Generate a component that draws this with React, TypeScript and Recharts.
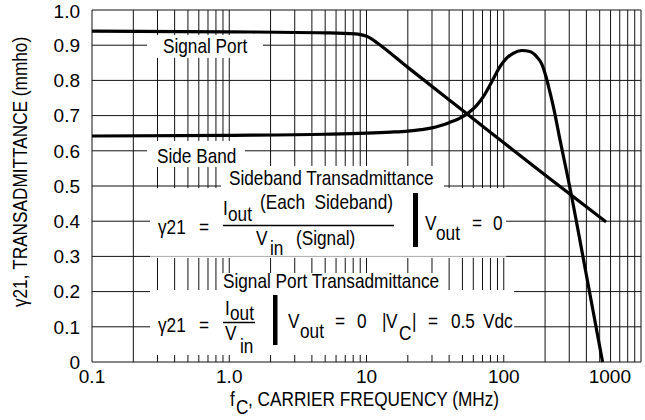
import {
  ComposedChart,
  Line,
  XAxis,
  YAxis,
  ReferenceLine,
  Customized,
} from "recharts";

// log grid positions along the frequency axis (MHz)
const freqTicks = [
  0.1, 0.2, 0.3, 0.4, 0.5, 0.6, 0.7, 0.8, 0.9,
  1, 2, 3, 4, 5, 6, 7, 8, 9,
  10, 20, 30, 40, 50, 60, 70, 80, 90,
  100, 200, 300, 400, 500, 600, 700, 800, 900,
  1000,
];
const freqLabels: Record<number, string> = {
  0.1: "0.1",
  1: "1.0",
  10: "10",
  100: "100",
  1000: "1000",
};
const yTicks = [0, 0.1, 0.2, 0.3, 0.4, 0.5, 0.6, 0.7, 0.8, 0.9, 1.0];

// Signal Port curve
const signalPortFreq = [0.1, 1, 5, 8.25, 9.04, 9.92, 10.88, 11.93, 20, 50, 100, 200, 556];
const signalPortY = [0.94, 0.938, 0.935, 0.932, 0.93, 0.926, 0.918, 0.907, 0.837, 0.715, 0.623, 0.531, 0.398];

// Side Band curve
const sideBandFreq = [
  0.1, 1, 5, 10, 15, 20, 25, 30, 34.3, 40, 48, 55, 63.5, 71, 79.4, 86.4, 93.9,
  105, 117, 135, 155, 174, 189, 203, 215, 230, 257, 300, 400, 525,
];
const sideBandY = [
  0.642, 0.644, 0.647, 0.65, 0.653, 0.656, 0.66, 0.665, 0.671, 0.68, 0.693, 0.707, 0.729, 0.754, 0.787, 0.814, 0.839,
  0.863, 0.877, 0.885, 0.882, 0.867, 0.847, 0.811, 0.773, 0.725, 0.631, 0.505, 0.247, 0,
];

const signalPortData = signalPortFreq.map((f, i) => ({ f, v: signalPortY[i] }));
const sideBandData = sideBandFreq.map((f, i) => ({ f, v: sideBandY[i] }));

// regions (in data units) where the grid is left out behind the labels
const gaps = [
  { f1: 0.252, f2: 1.76, v1: 0.864, v2: 0.929 }, // Signal Port
  { f1: 0.252, f2: 1.3, v1: 0.554, v2: 0.628 }, // Side Band
  { f1: 0.2646, f2: 104, v1: 0.2955, v2: 0.494 }, // sideband formula
  { f1: 0.871, f2: 36.7, v1: 0.494, v2: 0.557 }, // sideband title
  { f1: 0.2646, f2: 119, v1: 0.0199, v2: 0.2045 }, // signal port formula
  { f1: 0.842, f2: 36.7, v1: 0.2017, v2: 0.2528 }, // signal port title
];

function subtract(lo: number, hi: number, cuts: number[][]) {
  const out: number[][] = [];
  let cur = lo;
  cuts
    .slice()
    .sort((a, b) => a[0] - b[0])
    .forEach(([a, b]) => {
      if (a > cur) out.push([cur, a]);
      cur = Math.max(cur, b);
    });
  if (cur < hi) out.push([cur, hi]);
  return out;
}

const vSegments = freqTicks.flatMap((f) =>
  subtract(
    0,
    1,
    gaps.filter((g) => f > g.f1 && f < g.f2).map((g) => [g.v1, g.v2])
  ).map(([a, b]) => ({ f, a, b }))
);
const hSegments = yTicks.flatMap((v) =>
  subtract(
    0.1,
    1000,
    gaps.filter((g) => v > g.v1 && v < g.v2).map((g) => [g.f1, g.f2])
  ).map(([a, b]) => ({ v, a, b }))
);

const FONT = "'Liberation Sans', Arial, sans-serif";

function T({ x, y, children, size = 21, anchor = "start" }: any) {
  return (
    <text
      transform={`translate(${x},${y}) scale(0.82,1)`}
      fontSize={size}
      textAnchor={anchor}
      fill="#000"
      fontFamily={FONT}
      style={{ whiteSpace: "pre" }}
    >
      {children}
    </text>
  );
}

function Annotations() {
  return (
    <g>
      <T x={163} y={53}>Signal Port</T>
      <T x={157} y={163}>Side Band</T>

      {/* sideband formula */}
      <T x={229} y={185}>Sideband Transadmittance</T>
      <T x={158} y={234}>γ21</T>
      <T x={199} y={234}>=</T>
      <T x={223} y={215}>I</T>
      <T x={228} y={221}>out</T>
      <T x={260} y={209}>(Each  Sideband)</T>
      <line x1={223} x2={394} y1={225.5} y2={225.5} stroke="#000" strokeWidth={1.5} />
      <T x={256} y={245}>V</T>
      <T x={270} y={255}>in</T>
      <T x={296} y={245}>(Signal)</T>
      <rect x={413} y={193} width={5} height={54} fill="#000" />
      <T x={425} y={230}>V</T>
      <T x={436} y={240}>out</T>
      <T x={472} y={230}>=</T>
      <T x={493} y={230}>0</T>

      {/* signal port formula */}
      <T x={223} y={288}>Signal Port Transadmittance</T>
      <T x={158} y={332}>γ21</T>
      <T x={199} y={332}>=</T>
      <T x={225} y={315}>I</T>
      <T x={230} y={320}>out</T>
      <line x1={223} x2={255} y1={322.5} y2={322.5} stroke="#000" strokeWidth={1.5} />
      <T x={225} y={340}>V</T>
      <T x={240} y={353}>in</T>
      <rect x={273} y={295} width={4.5} height={50} fill="#000" />
      <T x={288} y={328}>V</T>
      <T x={300} y={338}>out</T>
      <T x={335} y={328}>=</T>
      <T x={357} y={328}>0</T>
      <T x={382} y={328}>|</T>
      <T x={386} y={328}>V</T>
      <T x={399} y={340}>C</T>
      <T x={412} y={328}>|</T>
      <T x={428} y={328}>=</T>
      <T x={451} y={328}>0.5</T>
      <T x={483} y={328}>Vdc</T>

      {/* axis titles */}
      <T x={230} y={406}>f</T>
      <T x={236} y={414}>C</T>
      <T x={248} y={406}>, CARRIER FREQUENCY (MHz)</T>
      <text
        transform="translate(27,172) rotate(-90) scale(0.82,1)"
        fontSize={21}
        textAnchor="middle"
        fill="#000"
        fontFamily={FONT}
      >
        γ21, TRANSADMITTANCE (mmho)
      </text>
    </g>
  );
}

function FreqTick({ x, y, payload }: any) {
  const label = freqLabels[payload.value];
  if (!label) return null;
  const last = payload.value === 1000;
  return (
    <text
      x={last ? x + 2 : x}
      y={y}
      dy="0.71em"
      textAnchor={last ? "end" : "middle"}
      fontSize={19}
      fill="#000"
      fontFamily={FONT}
    >
      {label}
    </text>
  );
}

export default function App() {
  return (
    <div style={{ position: "absolute", left: 0, top: 0, background: "#fff", fontFamily: FONT }}>
      <ComposedChart width={645} height={420} margin={{ top: 10, right: 4, bottom: 0, left: 0 }}>
        <XAxis
          dataKey="f"
          type="number"
          scale="log"
          domain={[0.1, 1000]}
          ticks={freqTicks}
          tick={<FreqTick />}
          tickLine={false}
          axisLine={false}
          tickSize={0}
          tickMargin={8}
          height={58}
          allowDataOverflow
        />
        <YAxis
          type="number"
          domain={[0, 1]}
          ticks={yTicks}
          tickFormatter={(v: number) => (v === 0 ? "0" : v.toFixed(1))}
          tick={{ fill: "#000", fontSize: 19, fontFamily: FONT }}
          tickLine={false}
          axisLine={false}
          tickSize={0}
          tickMargin={12}
          width={92}
        />
        {vSegments.map((s, i) => (
          <ReferenceLine
            key={`v${i}`}
            segment={[{ x: s.f, y: s.a }, { x: s.f, y: s.b }]}
            stroke="#111"
            strokeWidth={1}
          />
        ))}
        {hSegments.map((s, i) => (
          <ReferenceLine
            key={`h${i}`}
            segment={[{ x: s.a, y: s.v }, { x: s.b, y: s.v }]}
            stroke="#111"
            strokeWidth={1}
          />
        ))}
        <ReferenceLine
          segment={[{ x: 0.2646, y: 0.3 }, { x: 104, y: 0.3 }]}
          stroke="#aaa"
          strokeWidth={1}
        />
        <Customized component={<Annotations />} />
        <Line
          data={signalPortData}
          dataKey="v"
          type="monotone"
          stroke="#000"
          strokeWidth={3.2}
          dot={false}
          isAnimationActive={false}
        />
        <Line
          data={sideBandData}
          dataKey="v"
          type="monotone"
          stroke="#000"
          strokeWidth={3.2}
          dot={false}
          isAnimationActive={false}
        />
      </ComposedChart>
    </div>
  );
}
